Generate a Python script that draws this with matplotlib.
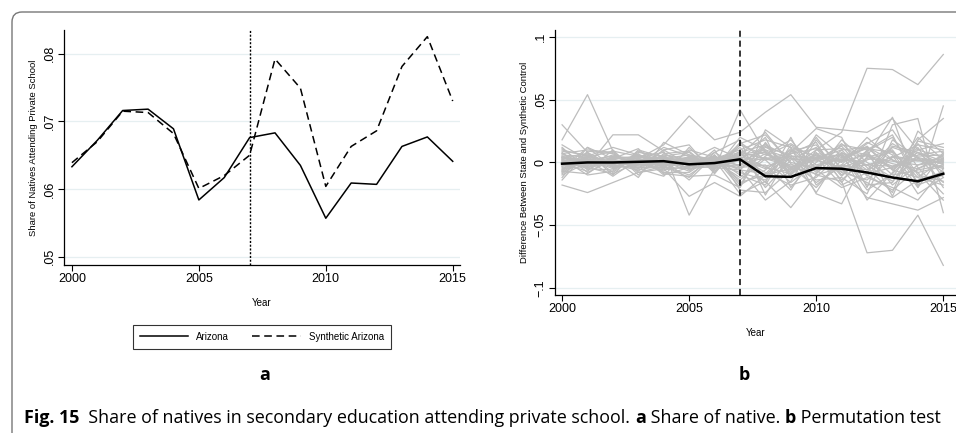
import numpy as np
import matplotlib
matplotlib.use('Agg')
import matplotlib.pyplot as plt
from matplotlib.patches import FancyBboxPatch

plt.rcParams['font.family'] = ['Liberation Sans', 'DejaVu Sans']

# dados
years = list(range(2000, 2016))
arizona = [.0633, .0672, .0716, .0718, .0689, .0584, .0617, .0676,
           .0683, .0635, .0557, .0609, .0607, .0663, .0677, .0641]
synthetic = [.0639, .0670, .0715, .0713, .0682, .0601, .0620, .0650,
             .0792, .0749, .0604, .0663, .0686, .0781, .0825, .0730]
left_yticks = [.05, .06, .07, .08]
left_ylabels = ['.05', '.06', '.07', '.08']

# gap de Arizona (milesimos)
az_gap = [-1, 0, 0, 0.5, 1, -1.5, -0.5, 2.5, -11, -11.5, -4.5, -5, -8, -12, -15, -9]

# placebos (milesimos)
placebos = [
    [18, 54, 9, 5, 3, 2, 1, 4, 2, 5, 3, 6, -2, 4, 1, 3],
    [30, 8, -3, 2, 0, -4, 3, 6, 10, 3, 1, 7, 5, -3, 2, -5],
    [4, 2, 5, 3, 14, 37, 18, 24, 40, 54, 28, 26, 24, 35, 10, 4],
    [2, -3, 22, 22, 9, -42, -5, 42, 8, -4, 6, 2, 12, -6, 8, 1],
    [-18, -24, -16, -8, -5, -27, -16, -27, -10, -5, 10, 24, 75, 74, 62, 86],
    [5, -4, 3, -12, 16, 6, 2, -25, -15, -36, -10, -15, -72, -70, -42, -82],
    [-12, 12, -4, 2, -7, 10, 4, -20, 26, 12, -25, -33, 5, 36, -20, 45],
    [10, 5, 12, 6, -3, -12, 8, 18, -26, 8, 27, 20, -20, 30, 35, -40],
    [-6, 8, -10, 10, 4, 0, -3, 15, 22, 0, -5, 14, 10, -27, 18, 35],
    [8, -8, 2, -5, 10, -2, 2, -5, -30, -15, 18, -5, -28, -33, -38, -28],
    [3, 2, -1, 1, 0, -2, 1, 5, 8, -6, 3, 10, 12, 2, -8, -3],
    [-4, -1, 2, -3, 1, 3, -1, -8, -14, 4, -10, -4, -2, -15, 6, 9],
    [6, 4, 1, 0, -2, 1, 3, 10, 18, 12, 5, 1, 13, -6, -12, -18],
    [-2, 3, -5, 2, 4, -1, -2, 4, -8, -18, -12, 8, -6, 15, 3, 0],
    [1, -2, 3, 5, -1, 0, 2, -6, 12, 6, -16, -3, 9, 20, -10, -15],
    [-8, 5, 0, -2, 6, 2, -4, 9, -20, 2, 12, -8, -14, 4, 14, 10],
    [12, -6, 4, 3, -4, -5, 1, -12, 5, 15, 2, 13, -10, -22, -5, 6],
    [-3, 1, -2, 6, 2, 4, 0, 7, -4, -9, 8, -14, 4, 10, -16, -7],
    [5, -1, 6, -1, -6, -3, 5, -3, 15, -12, -4, 6, -22, -9, 12, -20],
    [0, 3, -3, -4, 3, 6, -3, 12, -12, 9, 14, -10, 7, -18, -2, 5],
    [-5, -3, 1, 4, 8, -6, 2, -14, 3, -3, -20, 2, 16, 6, -25, -12],
    [9, 6, -2, -6, -2, 4, -5, 2, 20, -20, 4, -18, -8, 13, 8, -2],
    [-10, 0, 4, 1, -8, -8, 6, -18, -6, 10, -8, 18, 0, -12, 17, 12],
    [2, -5, -6, 8, 5, 8, -6, 20, 10, -8, 20, -6, -16, -28, -14, -8],
    [7, 10, 8, -8, -3, -10, 4, -10, -18, 14, -2, 4, 11, 8, -20, 8],
    [-7, -9, 5, -1, 12, 5, -2, 6, 24, -1, -14, -12, -25, 18, 4, -16],
    [4, 7, -8, 7, -10, -4, 8, -4, -2, -22, 10, 11, 6, -5, 10, 15],
    [-1, -7, 10, -10, 7, 9, -8, 14, 6, 18, -6, -20, -12, -20, -30, -5],
    [14, 2, -11, 3, 1, -7, 10, -22, -24, -6, 6, 0, 15, 26, -4, -25],
    [-14, 9, 7, -5, -11, 12, -7, 8, 14, 4, -24, 8, -30, -8, 20, 2],
    [3, -10, -7, 9, 2, -14, 6, -16, -10, 7, 16, -16, 10, 22, -18, -10],
    [-9, 4, 9, -7, 10, 14, -9, 16, 2, -16, 0, 15, -4, -24, 25, 7],
    [11, -4, -9, 0, -5, 2, 12, 3, -16, 20, -18, -2, 20, 2, -8, -30],
    [-6, 12, 3, 11, -9, -11, -10, -20, 16, -10, 22, 5, -18, -16, 15, -12],
    [1, 1, 0, -2, 0, 1, -1, 2, -3, 3, 2, -4, 3, 1, -2, 1],
    [2, -1, 1, 2, -1, -1, 1, -2, 4, -2, -3, 3, -2, -3, 4, -1],
    [-2, 2, -1, -1, 2, 0, 2, 3, -5, 5, 4, 1, 6, -1, -5, 3],
    [0, -2, 2, 0, -3, 3, -2, -4, 7, -5, -6, -2, -6, 5, 2, -4],
    [4, -4, 0, 3, -2, 2, 4, 1, 9, -10, 7, 5, -9, -4, 8, -8],
    [-3, 4, -4, -2, 5, -3, -4, -6, -9, 11, -4, -7, 2, 9, -12, 2],
    [7, -2, 3, -4, -4, 5, 3, 8, 3, 7, 11, -11, 8, -10, -6, -2],
    [-7, 6, -2, 5, 1, -5, -3, -2, 13, -4, -9, 10, -11, 12, 5, 6],
]
right_yticks = [-.1, -.05, 0, .05, .1]
right_ylabels = ['\u2212.1', '\u2212.05', '0', '.05', '.1']
xticks = [2000, 2005, 2010, 2015]
treat_year = 2007

grid_c = '#e6eff1'
fig = plt.figure(figsize=(9.56, 4.33), dpi=100)

def style(ax):
    for s in ['top', 'right']:
        ax.spines[s].set_visible(False)
    ax.spines['left'].set_linewidth(0.9)
    ax.spines['bottom'].set_linewidth(0.9)
    ax.tick_params(axis='both', direction='out', length=4, width=0.8, labelsize=9, pad=2)
    ax.tick_params(axis='y', labelrotation=90)
    for lab in ax.get_yticklabels():
        lab.set_va('center')
    ax.set_xticks(xticks)
    ax.grid(axis='y', color=grid_c, lw=0.9)
    ax.set_axisbelow(True)
    ax.set_xlabel('Year', fontsize=7, labelpad=9)

# painel a
ax1 = fig.add_axes([0.067, 0.388, 0.414, 0.543])
ax1.plot(years, arizona, color='black', lw=1.1, label='Arizona')
ax1.plot(years, synthetic, color='black', lw=1.1, ls=(0, (5, 3)), label='Synthetic Arizona')
ax1.axvline(treat_year, color='black', lw=1.0, ls=(0, (1.5, 1.2)))
ax1.set_xlim(1999.69, 2015.28)
ax1.set_ylim(0.0488, 0.0835)
ax1.set_yticks(left_yticks)
ax1.set_yticklabels(left_ylabels)
ax1.set_ylabel('Share of Natives Attending Private School', fontsize=6.8, labelpad=4)
style(ax1)

leg = fig.legend(loc='center', bbox_to_anchor=(0.274, 0.222), ncol=2, fontsize=7,
                 frameon=True, fancybox=False, edgecolor='black', handlelength=5,
                 columnspacing=2.4, borderpad=0.7)
leg.get_frame().set_linewidth(0.8)

# painel b
ax2 = fig.add_axes([0.5805, 0.3187, 0.4195, 0.6123])
for p in placebos:
    ax2.plot(years, np.array(p) / 1000, color='#bdbdbd', lw=0.9)
ax2.plot(years, np.array(az_gap) / 1000, color='black', lw=1.8)
ax2.axvline(treat_year, color='black', lw=1.1, ls=(0, (4, 2.5)))
ax2.set_xlim(1999.72, 2015.5)
ax2.set_ylim(-0.1056, 0.1056)
ax2.set_yticks(right_yticks)
ax2.set_yticklabels(right_ylabels)
ax2.set_ylabel('Difference Between State and Synthetic Control', fontsize=6.8, labelpad=4)
style(ax2)

# letras
fig.text(0.277, 0.134, 'a', fontsize=13, fontweight='bold', ha='center', va='center',
         family=['Open Sans', 'DejaVu Sans'])
fig.text(0.779, 0.134, 'b', fontsize=13, fontweight='bold', ha='center', va='center',
         family=['Open Sans', 'DejaVu Sans'])

# legenda da figura
parts = [('Fig. 15', 'bold'), ('  Share of natives in secondary education attending private school. ', 'normal'),
         ('a', 'bold'), (' Share of native. ', 'normal'), ('b', 'bold'), (' Permutation test', 'normal')]
r = fig.canvas.get_renderer()
x = 24
for txt, w in parts:
    t = fig.text(x / 956, 1 - 418 / 433, txt, fontsize=12.9, fontweight=w, va='center',
                 family=['Open Sans', 'DejaVu Sans'])
    x += t.get_window_extent(renderer=r).width

# moldura
frame = FancyBboxPatch((0.12, -0.3), 9.8, 4.51, boxstyle='round,pad=0,rounding_size=0.1',
                       transform=fig.dpi_scale_trans, fill=False, edgecolor='#777777',
                       lw=1.0, clip_on=False)
fig.patches.append(frame)

fig.savefig('out.png', dpi=100)
